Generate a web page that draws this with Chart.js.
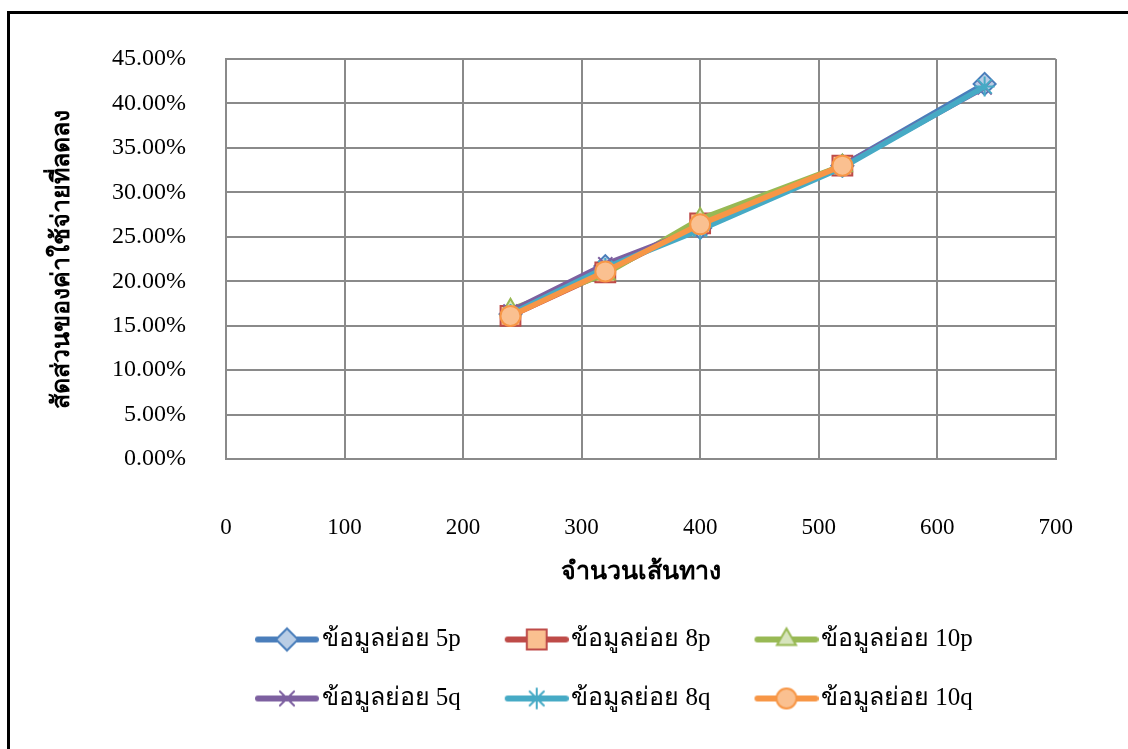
<!DOCTYPE html>
<html>
<head>
<meta charset="utf-8">
<script src="https://cdn.jsdelivr.net/npm/chart.js@4.4.1/dist/chart.umd.min.js"></script>
<style>
  html, body { margin: 0; padding: 0; background: #fff; }
  #wrap { position: relative; width: 1128px; height: 749px; overflow: hidden; }
  #frame { position: absolute; left: 7px; top: 11px; width: 1200px; height: 800px;
           border-left: 3px solid #000; border-top: 3px solid #000; }
  #chart { position: absolute; left: 0; top: 0; }
</style>
</head>
<body>
<div id="wrap">
  <div id="frame"></div>
  <canvas id="chart" width="1128" height="749"></canvas>
</div>
<script>
// routes (x) and reduced-cost ratios per sub-dataset
var routes = [240, 320, 400, 520, 640];
var seriesNames = ["ข้อมูลย่อย 5p", "ข้อมูลย่อย 8p", "ข้อมูลย่อย 10p",
                   "ข้อมูลย่อย 5q", "ข้อมูลย่อย 8q", "ข้อมูลย่อย 10q"];
var s5p  = [0.163, 0.217, 0.260, 0.330, 0.422];
var s8p  = [0.161, 0.210, 0.265, 0.330];
var s10p = [0.168, 0.208, 0.270, 0.330];
var s5q  = [0.166, 0.219, 0.260, 0.330, 0.418];
var s8q  = [0.163, 0.215, 0.258, 0.328, 0.419];
var s10q = [0.161, 0.211, 0.264, 0.330];
var yTicks = [0, 0.05, 0.10, 0.15, 0.20, 0.25, 0.30, 0.35, 0.40, 0.45];
var xTicks = [0, 100, 200, 300, 400, 500, 600, 700];

var allValues = [s5p, s8p, s10p, s5q, s8q, s10q];

// marker look per series
var styles = [
  {line: '#4A7EBB', fill: '#B9CDE5', point: 'rectRot',  r: 11},
  {line: '#BE4B48', fill: '#FAC090', point: 'rect',     r: 14},
  {line: '#98B954', fill: '#D7E4BD', point: 'triangle', r: 11},
  {line: '#7D60A0', fill: '#7D60A0', point: 'crossRot', r: 10},
  {line: '#46AAC5', fill: '#46AAC5', point: 'star',     r: 10},
  {line: '#F79646', fill: '#FAC090', point: 'circle',   r: 10}
];

var font = "'Liberation Serif', 'Times New Roman', serif";

// legend icons: short line with the marker in the middle
// (canvas is wider than the slot so the icon sits close to its text)
function makeIcon(st) {
  var c = document.createElement('canvas');
  c.width = 84; c.height = 28;
  var g = c.getContext('2d');
  g.strokeStyle = st.line; g.lineWidth = 6; g.lineCap = 'round';
  g.beginPath(); g.moveTo(23, 14); g.lineTo(81, 14); g.stroke();
  g.fillStyle = st.fill; g.strokeStyle = st.line; g.lineWidth = 2;
  Chart.helpers.drawPoint(g, {pointStyle: st.point, radius: st.r, rotation: 0, borderWidth: 2}, 52, 14);
  return c;
}
var icons = styles.map(makeIcon);

var datasets = allValues.map(function(vals, i) {
  var st = styles[i];
  return {
    label: seriesNames[i],
    data: vals.map(function(v, j) { return {x: routes[j], y: v}; }),
    borderColor: st.line,
    backgroundColor: st.fill,
    borderWidth: 5.5,
    pointStyle: st.point,
    pointRadius: st.r,
    pointHoverRadius: st.r,
    pointBackgroundColor: st.fill,
    pointBorderColor: st.line,
    pointBorderWidth: 2,
    tension: 0,
    order: 6 - i
  };
});

var gridColor = '#8A8A8A';

var shiftLegend = {
  id: 'shiftLegend',
  afterLayout: function(chart) {
    var lg = chart.legend;
    if (lg) { lg.left -= 32; lg.right -= 32; }
  }
};

var ctx = document.getElementById('chart').getContext('2d');
new Chart(ctx, {
  type: 'line',
  data: {datasets: datasets},
  plugins: [shiftLegend],
  options: {
    responsive: false,
    animation: false,
    layout: {padding: {left: 48, right: 72, top: 59, bottom: 28}},
    plugins: {
      tooltip: {enabled: false},
      legend: {
        position: 'bottom',
        fullSize: false,
        labels: {
          usePointStyle: true,
          pointStyleWidth: 64,
          padding: 34,
          color: '#000',
          font: {family: font, size: 25},
          sort: function(a, b) { return a.datasetIndex - b.datasetIndex; },
          generateLabels: function(chart) {
            var items = Chart.defaults.plugins.legend.labels.generateLabels(chart);
            items.forEach(function(it) { it.pointStyle = icons[it.datasetIndex]; });
            return items;
          }
        }
      }
    },
    scales: {
      x: {
        type: 'linear',
        min: 0, max: 700,
        afterBuildTicks: function(s) { s.ticks = xTicks.map(function(v) { return {value: v}; }); },
        afterFit: function(s) { s.height = 134; },
        grid: {color: gridColor, lineWidth: 2, drawTicks: false},
        border: {color: gridColor, width: 2},
        ticks: {padding: 55, color: '#000', font: {family: font, size: 23}, maxRotation: 0},
        title: {display: true, text: 'จำนวนเส้นทาง', color: '#000',
                font: {family: font, size: 25, weight: 'bold'}, padding: {top: 0, bottom: 5}}
      },
      y: {
        min: 0, max: 0.45,
        afterBuildTicks: function(s) { s.ticks = yTicks.map(function(v) { return {value: v}; }); },
        afterFit: function(s) { s.width = 178; },
        grid: {color: gridColor, lineWidth: 2, drawTicks: false},
        border: {color: gridColor, width: 2},
        ticks: {padding: 40, color: '#000', font: {family: font, size: 24},
                callback: function(v) { return (v * 100).toFixed(2) + '%'; }},
        title: {display: true, text: 'สัดส่วนของค่าใช้จ่ายที่ลดลง', color: '#000',
                font: {family: font, size: 25, weight: 'bold'}, padding: {top: 0, bottom: 0}}
      }
    }
  }
});
</script>
</body>
</html>
